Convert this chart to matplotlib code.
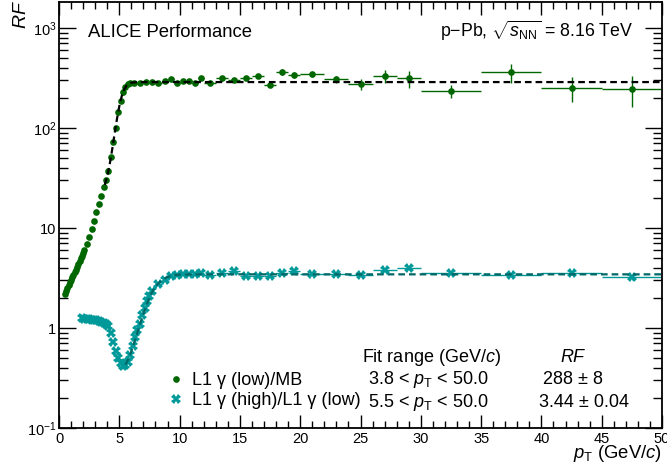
import matplotlib
matplotlib.use("Agg")
import matplotlib.pyplot as plt
from matplotlib.ticker import FixedLocator, NullFormatter, MultipleLocator

plt.rcParams['font.family'] = ['Liberation Sans', 'DejaVu Sans']
plt.rcParams['mathtext.fontset'] = 'custom'
plt.rcParams['mathtext.rm'] = 'Liberation Sans'
plt.rcParams['mathtext.it'] = 'Liberation Sans:italic'
plt.rcParams['mathtext.bf'] = 'Liberation Sans:bold'

# L1 gamma (low) / MB
green_pt = [0.5, 0.6, 0.7, 0.8, 0.9, 1.0, 1.1, 1.2, 1.3, 1.4, 1.5, 1.6, 1.7, 1.8, 1.9, 2.0, 2.1,
            2.3, 2.5, 2.7, 2.9, 3.1, 3.3, 3.5, 3.7, 3.9, 4.1, 4.3, 4.5, 4.7, 4.9,
            5.1, 5.3, 5.5, 5.7, 5.9,
            6.25, 6.75, 7.25, 7.75, 8.25, 8.75, 9.25, 9.75, 10.25, 10.75, 11.25, 11.75,
            12.5, 13.5, 14.5, 15.5, 16.5, 17.5, 18.5, 19.5,
            21, 23, 25, 27, 29,
            32.5, 37.5, 42.5, 47.5]
green_rf = [2.17, 2.33, 2.5, 2.68, 2.87, 3.05, 3.22, 3.4, 3.6, 3.83, 4.07, 4.35, 4.65, 4.97, 5.3, 5.65, 6.0,
            6.9, 8.2, 9.8, 11.8, 14.4, 17.3, 20.8, 25.5, 30.4, 37.4, 51.6, 73, 101, 146,
            187, 227, 259, 275, 282,
            285, 284, 288, 290, 284, 293, 309, 284, 295, 297, 284, 314,
            284, 314, 304, 318, 329, 272, 366, 341,
            344, 307, 275, 331, 314,
            234, 360, 251, 247]
green_yerr = [0.03] * 17 + [
              0.15, 0.2, 0.25, 0.3, 0.4, 0.5, 0.6, 0.8, 1.0, 1.3, 2, 3, 4, 6,
              8, 9, 10, 10, 10,
              8, 8, 8, 8, 9, 9, 10, 10, 11, 11, 12, 12,
              10, 11, 12, 13, 14, 15, 25, 25,
              20, 25, 33, 50, 60,
              33, 80, 70, 85]
green_xerr = [0.05] * 17 + [0.1] * 19 + [0.25] * 12 + [0.5] * 8 + [1.0] * 5 + [2.5] * 4

# L1 gamma (high) / L1 gamma (low)
cyan_pt = [1.9, 2.1, 2.3, 2.5, 2.7, 2.9, 3.1, 3.3, 3.5, 3.7, 3.9, 4.1, 4.3, 4.5, 4.7,
           4.9, 5.1, 5.3, 5.5, 5.7, 5.9, 6.1, 6.3, 6.5, 6.7, 6.9, 7.1, 7.3, 7.5, 7.7,
           8.25, 8.75, 9.25, 9.75, 10.25, 10.75, 11.25, 11.75,
           12.5, 13.5, 14.5, 15.5, 16.5, 17.5, 18.5, 19.5,
           21, 23, 25, 27, 29,
           32.5, 37.5, 42.5, 47.5]
cyan_rf = [1.25, 1.24, 1.23, 1.22, 1.21, 1.20, 1.19, 1.17, 1.15, 1.12, 1.09, 1.05, 0.9, 0.72, 0.59,
           0.5, 0.45, 0.42, 0.43, 0.46, 0.54, 0.66, 0.82, 0.95, 1.1, 1.35, 1.6, 1.85, 2.1, 2.35,
           2.75, 3.05, 3.3, 3.42, 3.47, 3.47, 3.47, 3.52,
           3.42, 3.52, 3.72, 3.33, 3.33, 3.33, 3.52, 3.72,
           3.47, 3.47, 3.42, 3.80, 3.95,
           3.57, 3.39, 3.57, 3.21]
cyan_yerr = [0.01] * 30 + [0.03] * 8 + [0.05] * 8 + [0.07, 0.08, 0.1, 0.15, 0.15] + [0.12, 0.12, 0.15, 0.22]
cyan_xerr = [0.1] * 30 + [0.25] * 8 + [0.5] * 8 + [1.0] * 5 + [2.5] * 4

# fit curves
fit_low_pt = [3.8, 4.0, 4.2, 4.4, 4.6, 4.8, 5.0, 5.2, 5.4, 5.6, 5.8, 6.0, 6.4, 7.0, 50]
fit_low_rf = [27, 33, 43, 60, 86, 122, 165, 208, 243, 266, 278, 284, 287, 288, 288]
fit_high_pt = [5.5, 5.8, 6.1, 6.4, 6.7, 7.0, 7.3, 7.6, 8.0, 8.5, 9.0, 9.5, 10.0, 11.0, 50]
fit_high_rf = [0.43, 0.5, 0.64, 0.82, 1.08, 1.38, 1.75, 2.15, 2.6, 3.0, 3.25, 3.37, 3.42, 3.44, 3.44]

green = '#006600'
cyan = '#009999'
cyan_fit = '#006666'

fig = plt.figure(figsize=(6.67, 4.73), dpi=100)
ax = fig.add_axes([59 / 667, 1 - 428 / 473, 603 / 667, 426 / 473])

eb_g = ax.errorbar(green_pt, green_rf, yerr=green_yerr, xerr=green_xerr, fmt='o', color=green,
                   ms=4.8, mew=0, elinewidth=1.0, capsize=0, zorder=2)
eb_c = ax.errorbar(cyan_pt, cyan_rf, yerr=cyan_yerr, xerr=cyan_xerr, fmt='X', color=cyan,
                   ms=7, mew=0, elinewidth=1.0, capsize=0, zorder=2)
ax.plot(fit_low_pt, fit_low_rf, color='black', lw=1.6, dashes=(3.0, 1.8), zorder=3)
ax.plot(fit_high_pt, fit_high_rf, color=cyan_fit, lw=1.6, dashes=(3.0, 1.8), zorder=3)

ax.set_xlim(0, 50)
ax.set_yscale('log')
ax.set_ylim(0.1, 1820)

ax.xaxis.set_major_locator(MultipleLocator(5))
ax.xaxis.set_minor_locator(MultipleLocator(1))
ax.yaxis.set_major_locator(FixedLocator([0.1, 1, 10, 100, 1000]))
ax.set_yticklabels(['$10^{-1}$', '1', '10', '$10^{2}$', '$10^{3}$'])
minors = [m * 10.0 ** e for e in range(-1, 4) for m in range(2, 10)]
ax.yaxis.set_minor_locator(FixedLocator(minors))
ax.yaxis.set_minor_formatter(NullFormatter())

ax.tick_params(which='both', direction='in', top=True, right=True, labelsize=10.5, width=1.0)
ax.tick_params(axis='x', which='major', length=9.5, pad=3)
ax.tick_params(axis='x', which='minor', length=4.7)
ax.tick_params(axis='y', which='major', length=12, pad=2)
ax.tick_params(axis='y', which='minor', length=6.5)
for s in ax.spines.values():
    s.set_linewidth(1.3)

ax.text(1.0, -30 / 426, r'$p_{\mathrm{T}}$ (GeV/$c$)', transform=ax.transAxes,
        ha='right', va='baseline', fontsize=13.3)
ax.text(-38 / 603, 1.005, r'$RF$', transform=ax.transAxes, rotation=90,
        ha='center', va='top', fontsize=14)

ax.text(29 / 603, 0.918, 'ALICE Performance', transform=ax.transAxes,
        ha='left', va='baseline', fontsize=13.3)
ax.text(574 / 603, 0.918, r'p$-$Pb, $\sqrt{s_{\mathrm{NN}}}$ = 8.16 TeV', transform=ax.transAxes,
        ha='right', va='baseline', fontsize=12.8)

fs = 13
ax.text(372.5 / 603, 0.154, 'Fit range (GeV/$c$)', transform=ax.transAxes,
        ha='center', va='baseline', fontsize=fs)
ax.text(514 / 603, 0.154, '$RF$', transform=ax.transAxes,
        ha='center', va='baseline', fontsize=fs)
ax.text(309 / 603, 0.1033, r'3.8 < $p_{\mathrm{T}}$ < 50.0', transform=ax.transAxes,
        ha='left', va='baseline', fontsize=fs)
ax.text(309 / 603, 0.050, r'5.5 < $p_{\mathrm{T}}$ < 50.0', transform=ax.transAxes,
        ha='left', va='baseline', fontsize=fs)
ax.text(514 / 603, 0.1033, '288 ± 8', transform=ax.transAxes,
        ha='center', va='baseline', fontsize=fs)
ax.text(525 / 603, 0.050, '3.44 ± 0.04', transform=ax.transAxes,
        ha='center', va='baseline', fontsize=fs)

ax.legend([eb_g[0], eb_c[0]], ['L1 γ (low)/MB', 'L1 γ (high)/L1 γ (low)'],
          loc='center left', bbox_to_anchor=(108 / 603, 0.088), frameon=False,
          fontsize=fs, handlelength=1.0, handletextpad=0.4, labelspacing=0.15,
          borderpad=0, borderaxespad=0)

fig.savefig('out.png', dpi=100)
